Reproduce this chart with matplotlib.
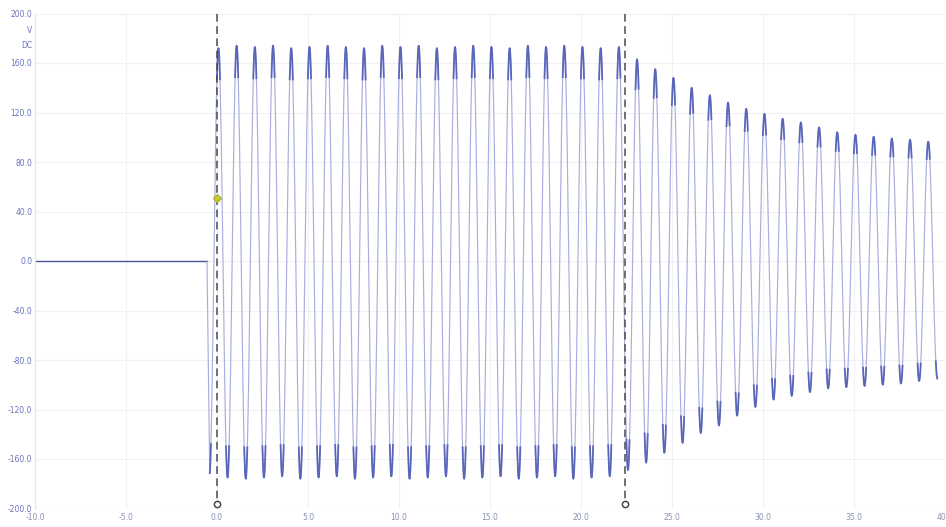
import numpy as np
import matplotlib
matplotlib.use("Agg")
import matplotlib.pyplot as plt

# recorded voltage trace, read peak by peak (time in cycles, volts DC)
t_flat = [-10.0, -0.55]
v_flat = [0.0, 0.0]

t_peaks = [n + 0.08 for n in range(40)]
v_peaks = [172, 174, 173, 174, 172, 173, 174, 173, 172, 174,
           173, 174, 172, 173, 174, 173, 172, 174, 173, 174,
           173, 172, 173, 163, 155, 148, 140, 134, 128, 123,
           119, 115, 112, 108, 104, 102, 100.5, 99, 98, 96.5]

t_troughs = [n - 0.42 for n in range(41)]
v_troughs = [-173, -175, -176, -175, -174, -176, -175, -174, -176, -175,
             -174, -176, -175, -174, -176, -175, -174, -176, -175, -174,
             -176, -175, -174, -169, -163, -155, -147, -139, -133, -125,
             -118, -112, -109, -106, -103, -102, -101, -100, -99, -97, -95]

cursor_t = [0.0, 22.4]
trigger = (0.0, 51.0)

x_ticks = [-10, -5, 0, 5, 10, 15, 20, 25, 30, 35, 40]
y_ticks = [200, 160, 120, 80, 40, 0, -40, -80, -120, -160, -200]


def build_trace():
    # alternate troughs and peaks, half-cosine between each pair
    ext = []
    for i in range(len(t_troughs)):
        ext.append((t_troughs[i], v_troughs[i]))
        if i < len(t_peaks):
            ext.append((t_peaks[i], v_peaks[i]))
    xs, ys, near = [t_flat[1]], [0.0], [False]
    for (x0, y0), (x1, y1) in zip(ext[:-1], ext[1:]):
        u = np.linspace(0, 1, 24)[1:]
        xs.extend(x0 + (x1 - x0) * u)
        ys.extend((y0 + y1) / 2 + (y0 - y1) / 2 * np.cos(np.pi * u))
        near.extend(np.abs(np.cos(np.pi * u)) > 0.84)
    xs, ys, near = np.array(xs), np.array(ys), np.array(near)
    keep = xs <= 40.0
    return xs[keep], ys[keep], near[keep]


xs, ys, near = build_trace()

fig = plt.figure(figsize=(9.46, 5.27), dpi=100)
ax = fig.add_axes([35 / 946, 18.5 / 527, 910 / 946, 495 / 527])

ax.set_xlim(-10, 40)
ax.set_ylim(-200, 200)
ax.set_xticks(x_ticks)
ax.set_yticks(y_ticks)
ax.set_xticklabels(["%.1f" % v for v in x_ticks], fontsize=5.5, color="#8a8fb0")
ax.set_yticklabels(["%.1f" % v for v in y_ticks], fontsize=5.5, color="#6b72c0")
ax.tick_params(axis="y", length=0, pad=2)
ax.tick_params(axis="x", length=0, pad=3.5)
ax.grid(True, color="#f1f1f4", lw=0.8)
ax.set_axisbelow(True)
for s in ["top", "right", "bottom"]:
    ax.spines[s].set_visible(False)
ax.spines["left"].set_color("#e4e6f0")

ax.text(-0.003, 0.965, "V", transform=ax.transAxes, ha="right", va="center",
        fontsize=5.5, color="#6b72c0")
ax.text(-0.003, 0.935, "DC", transform=ax.transAxes, ha="right", va="center",
        fontsize=5.5, color="#6b72c0")

ax.plot(t_flat, v_flat, color="#4c5398", lw=1.0)
ax.plot(xs, ys, color="#a9addf", lw=0.85)
ax.plot(xs, np.where(near, ys, np.nan), color="#4f5db6", lw=1.3, alpha=0.9)

for c in cursor_t:
    ax.plot([c, c], [200, -196], color="#4a4a4a", lw=1.1, dashes=(5, 3))
    ax.plot(c, -196, marker="o", ms=4.5, mfc="white", mec="#4a4a4a", mew=1.1,
            clip_on=False)

ax.plot(trigger[0], trigger[1], marker="D", ms=4.5, color="#c9c93a",
        mec="#b5b52a", zorder=5)

fig.savefig("out.png", dpi=100)
